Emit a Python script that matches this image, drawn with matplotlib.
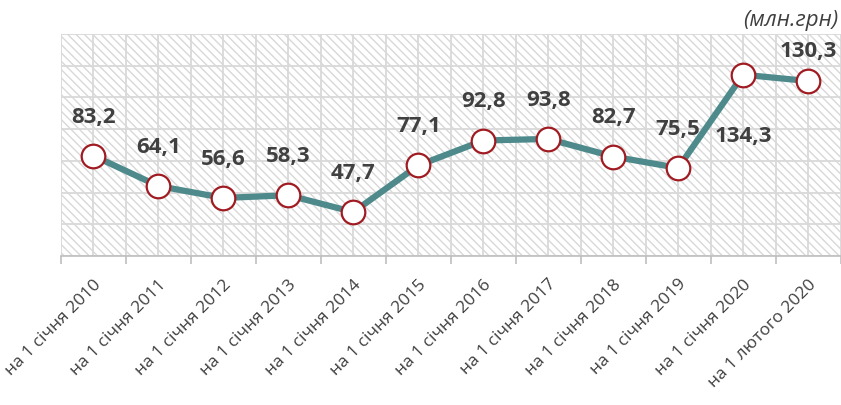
import matplotlib
matplotlib.use("Agg")
import matplotlib.pyplot as plt
from matplotlib.patches import Rectangle
import numpy as np

# Data
dates = [
    "на 1 січня 2010", "на 1 січня 2011", "на 1 січня 2012", "на 1 січня 2013",
    "на 1 січня 2014", "на 1 січня 2015", "на 1 січня 2016", "на 1 січня 2017",
    "на 1 січня 2018", "на 1 січня 2019", "на 1 січня 2020", "на 1 лютого 2020",
]
values = [83.2, 64.1, 56.6, 58.3, 47.7, 77.1, 92.8, 93.8, 82.7, 75.5, 134.3, 130.3]
unit_label = "(млн.грн)"

plt.rcParams['font.family'] = ['Open Sans', 'DejaVu Sans']

fig = plt.figure(figsize=(8.41, 4.06), dpi=100)
ax = fig.add_axes([0.0725, 0.367, 0.927, 0.547])

x = np.arange(len(values))
text_col = '#404040'
grid_col = '#D9D9D9'

# hatched background of the plot area
ax.patch.set_visible(False)
ax.add_patch(Rectangle((0, 0), 1, 1, transform=ax.transAxes, facecolor='white',
                       edgecolor='#D8D8D8', hatch='\\\\\\\\', linewidth=0, zorder=0))

ax.plot(x, values, color='#4E8A8B', linewidth=4.5, zorder=3,
        marker='o', markersize=17, markerfacecolor='white',
        markeredgecolor='#A01C22', markeredgewidth=1.6, clip_on=False)

for i, v in enumerate(values):
    if i == 10:
        off = -44
    elif i == len(values) - 1:
        off = 22
    else:
        off = 28.5
    ax.annotate(f"{v:.1f}".replace('.', ','), (x[i], v), xytext=(0, off),
                textcoords='offset points', ha='center', va='center',
                fontsize=16, fontweight='bold', color=text_col, zorder=4)

ax.set_xlim(-0.5, len(values) - 0.5)
ax.set_ylim(20, 160)
ax.set_yticks(np.arange(20, 161, 20))
ax.set_yticklabels([])
ax.tick_params(axis='y', length=0)

ax.set_xticks(x)
ax.set_xticklabels(dates, rotation=45, ha='right', rotation_mode='anchor',
                   fontsize=12.5, color=text_col)
ax.set_xticks(np.arange(-0.5, len(values)), minor=True)
ax.tick_params(axis='x', which='major', length=0, pad=14)
ax.tick_params(axis='x', which='minor', length=6, width=1.2, color='#BFBFBF')

ax.grid(True, which='both', color=grid_col, linewidth=1.3, zorder=1)
ax.set_axisbelow(True)
for s in ['top', 'right', 'left']:
    ax.spines[s].set_visible(False)
ax.spines['bottom'].set_color('#BFBFBF')
ax.spines['bottom'].set_linewidth(1.2)

fig.text(0.997, 0.95, unit_label, ha='right', va='center', fontsize=16,
         style='italic', color=text_col)

fig.savefig('out.png', dpi=100)
